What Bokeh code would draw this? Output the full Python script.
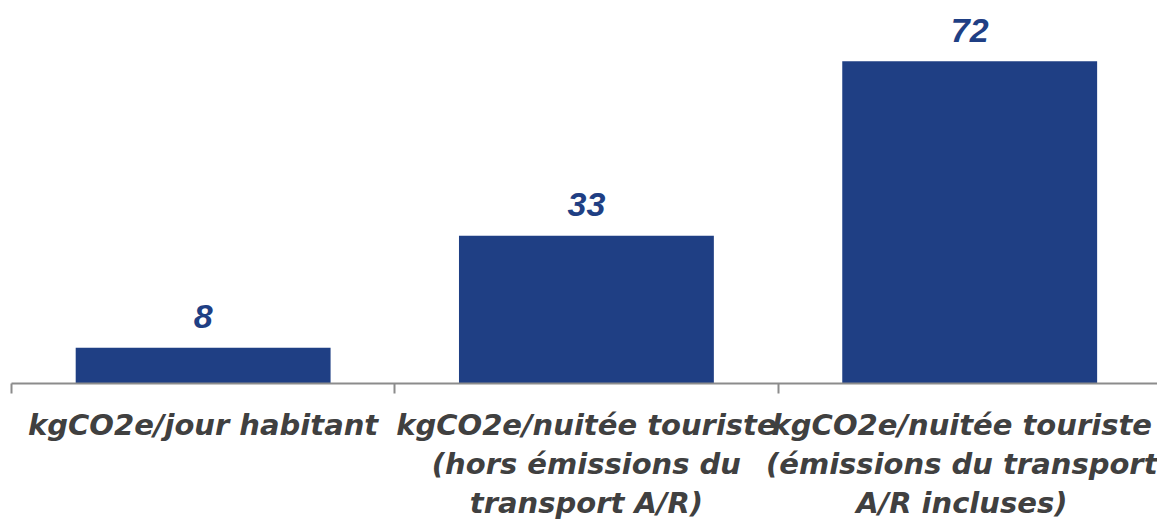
from bokeh.plotting import figure
from bokeh.models import Range1d, FixedTicker, ColumnDataSource
from bokeh.core.properties import value
from bokeh.embed import file_html
from bokeh.resources import INLINE

categories = [
    "kgCO2e/jour habitant",
    "kgCO2e/nuitée touriste\n(hors émissions du\ntransport A/R)",
    "kgCO2e/nuitée touriste\n(émissions du transport\nA/R incluses)",
]
values = [8, 33, 72]
value_labels = ["8", "33", "72"]

BAR = "#1F3F84"
GREY = "#8C8C8C"
TEXT = "#404040"

centers = [i + 0.5 for i in range(len(categories))]
bounds = [i for i in range(len(categories) + 1)]

src = ColumnDataSource(dict(x=centers, top=values, lab=value_labels))

p = figure(
    width=1157, height=522,
    x_range=Range1d(0, 2.99), y_range=Range1d(0, 85.6),
    output_backend="svg", toolbar_location=None,
    min_border_left=11, min_border_right=0, min_border_top=0, min_border_bottom=139,
)
p.outline_line_color = None
p.xgrid.visible = False
p.ygrid.visible = False
p.yaxis.visible = False

p.vbar(x="x", top="top", bottom=0, width=0.665, source=src,
       fill_color=BAR, line_color=None)

p.text(x="x", y="top", text="lab", source=src,
       text_align="center", text_baseline="alphabetic", y_offset=-31,
       text_font=value("Liberation Sans"), text_font_style="bold italic",
       text_font_size="34px", text_color=BAR)

ax = p.xaxis[0]
ax.ticker = FixedTicker(ticks=centers, minor_ticks=bounds)
ax.major_label_overrides = {c: lab for c, lab in zip(centers, categories)}
ax.axis_line_color = GREY
ax.axis_line_width = 2
ax.major_tick_line_color = None
ax.major_tick_in = 0
ax.major_tick_out = 0
ax.minor_tick_line_color = GREY
ax.minor_tick_line_width = 2
ax.minor_tick_in = 0
ax.minor_tick_out = 10
ax.major_label_standoff = 14
ax.major_label_text_font = "DejaVu Sans"
ax.major_label_text_font_style = "bold italic"
ax.major_label_text_font_size = "29px"
ax.major_label_text_color = TEXT
ax.major_label_text_line_height = 1.15
ax.major_label_text_align = "center"

open("out.html", "w").write(file_html(p, INLINE))
